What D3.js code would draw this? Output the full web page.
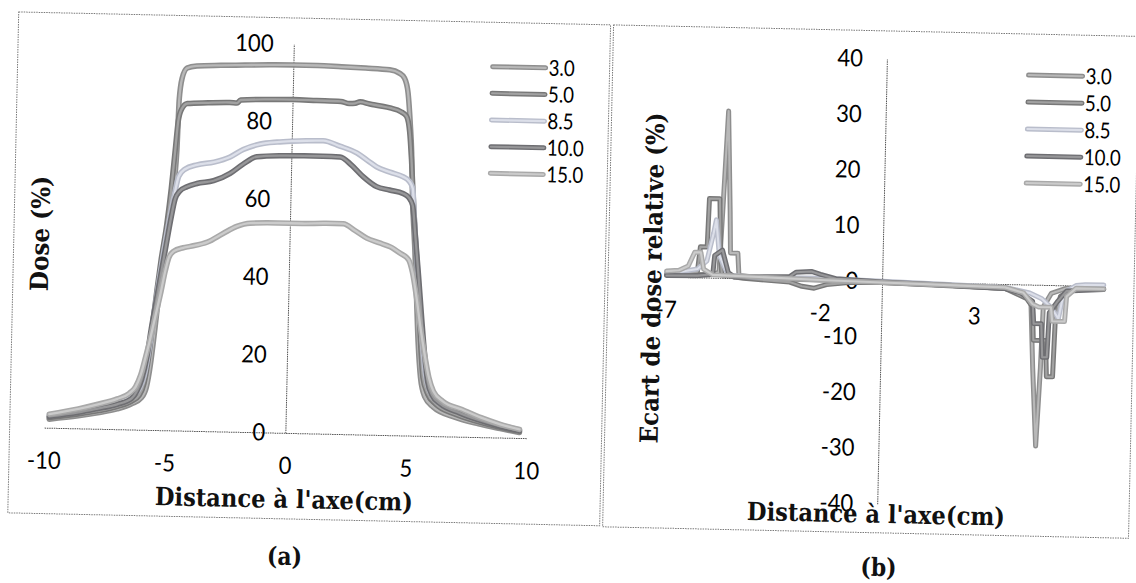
<!DOCTYPE html>
<html>
<head>
<meta charset="utf-8">
<script src="https://cdn.jsdelivr.net/npm/d3@7/dist/d3.min.js"></script>
<style>
  html, body { margin: 0; padding: 0; background: #fff; }
  svg { display: block; }
</style>
</head>
<body>
<svg id="fig" width="1136" height="583"></svg>
<script>
// ---- Data -------------------------------------------------------------
// Depths (cm) of the measured profiles
const depths = ["3.0", "5.0", "8.5", "10.0", "15.0"];

// (a) Dose profiles: [distance to axis (cm), dose (%)]
const prof3_0 = [[-9.8,2.2],[-8.6,3.2],[-7.8,4.1],[-7.0,5.2],[-6.4,6.6],[-6.0,8.2],[-5.8,11],[-5.65,17],[-5.5,26],[-5.35,36],[-5.2,44.6],[-4.91,59],[-4.75,72],[-4.7,85],[-4.6,90.5],[-4.4,93.2],[-4.0,93.8],[-3,94.1],[-2,94.3],[-1,94.5],[0,94.6],[1,94.6],[2,94.4],[3,94.2],[4.0,93.9],[4.4,93.1],[4.62,91.8],[4.78,88],[4.9,80],[4.98,73],[5.05,62],[5.2,47.8],[5.3,37],[5.42,24],[5.55,15],[5.75,10],[6.1,7.5],[7.0,5.0],[8.0,3.4],[8.9,2.3],[9.7,1.4]];
const prof5_0 = [[-9.8,2.6],[-8.6,3.7],[-7.8,4.6],[-7.0,5.8],[-6.4,7.3],[-6.1,8.8],[-5.9,12],[-5.75,18],[-5.6,27],[-5.45,36],[-5.3,44],[-5.1,53],[-4.95,62],[-4.82,72],[-4.72,79.5],[-4.6,82.5],[-4.36,84.1],[-3.5,84.4],[-2.6,84.6],[-2.3,84.5],[-2.15,85.3],[-1,85.6],[0,85.7],[1,85.6],[2,85.5],[2.35,85.0],[2.6,85.1],[2.8,85.5],[3.2,85.0],[3.6,84.6],[4.05,84.1],[4.5,83.2],[4.74,82],[4.88,78],[4.98,71],[5.08,62],[5.22,50],[5.38,38],[5.52,24],[5.65,15],[5.85,11],[6.2,8.3],[7.0,5.8],[8.0,3.9],[8.9,2.6],[9.7,1.7]];
const prof8_5 = [[-9.8,3.2],[-8.6,4.6],[-7.8,5.7],[-7.0,7.0],[-6.4,8.6],[-6.1,10.5],[-5.9,14],[-5.7,22],[-5.55,30],[-5.4,37],[-5.2,46],[-5.0,54],[-4.8,61],[-4.65,65.3],[-4.4,67.2],[-3.9,68.4],[-3.2,69.2],[-2.54,70.6],[-2.0,72.6],[-1.3,74.1],[-0.6,74.7],[0,75.0],[0.6,75.2],[1.3,75.3],[2.0,74.0],[2.72,72.3],[3.2,70.3],[3.54,68.9],[4.1,67.6],[4.64,66.5],[4.9,65.4],[5.06,63.5],[5.15,56],[5.3,45],[5.45,34],[5.6,24],[5.75,16],[5.95,11.5],[6.3,8.8],[7.2,6.3],[8.0,4.8],[8.9,3.2],[9.7,2.1]];
const prof10_0 = [[-9.8,2.9],[-8.6,4.1],[-7.8,5.2],[-7.0,6.4],[-6.4,8.0],[-6.2,9.8],[-6.0,13],[-5.8,19],[-5.65,26],[-5.45,34],[-5.25,42],[-5.1,48],[-4.92,55],[-4.78,59.5],[-4.6,61.5],[-4.3,62.7],[-3.89,63.6],[-3.2,64.4],[-2.52,66.4],[-2.0,68.8],[-1.43,70.8],[-0.5,71.2],[0.5,71.3],[1.3,71.3],[2.02,71.2],[2.5,69.2],[2.99,66.3],[3.56,63.8],[4.1,63.0],[4.66,62.2],[4.9,61.2],[5.07,59.2],[5.2,52],[5.38,41],[5.55,30],[5.7,21],[5.85,14],[6.05,10.5],[6.4,8.3],[7.2,6.1],[8.0,4.4],[8.9,2.9],[9.7,1.9]];
const prof15_0 = [[-9.8,3.5],[-8.6,5.0],[-7.8,6.3],[-7.0,7.8],[-6.5,9.3],[-6.25,11],[-6.05,14],[-5.85,19],[-5.7,23],[-5.5,29],[-5.3,35],[-5.12,41],[-4.98,44.5],[-4.8,46],[-4.4,47],[-4.11,47.4],[-3.4,48.6],[-2.76,50.9],[-2.2,52.8],[-1.65,53.7],[-0.5,53.9],[0.5,53.9],[1.5,54.1],[2.21,54.1],[2.7,52.4],[3.2,50.5],[3.7,49.4],[4.18,48.4],[4.6,46.8],[4.95,45.2],[5.12,42],[5.3,36],[5.5,28],[5.7,21],[5.9,15],[6.1,11.5],[6.5,9.0],[7.3,7.0],[8.1,5.0],[8.9,3.4],[9.7,2.2]];

// (b) Relative dose deviation: [distance to axis (cm), deviation (%)]
const dev3_0 = [[-7,0.3],[-6.5,0.4],[-6.0,0.5],[-5.5,0.6],[-5.3,1],[-5.22,12],[-5.1,30],[-4.98,12],[-4.94,4.5],[-4.7,4.5],[-4.65,0.5],[-4,0.2],[-3,0],[-2,0],[-1,0],[0,-0.2],[1,-0.3],[2,-0.4],[3,-0.6],[4,-0.8],[4.6,-1.5],[4.85,-3.5],[4.95,-15],[5.1,-29],[5.2,-15],[5.25,-4],[5.5,-1.5],[6.0,-0.5],[7,-0.5],[7.2,-0.5]];
const dev5_0 = [[-7,0.5],[-6.2,0.8],[-6.0,1],[-5.92,5.5],[-5.7,5.5],[-5.66,14.2],[-5.32,14.2],[-5.25,3],[-5.2,0.5],[-4.5,0],[-3,-0.5],[-2.6,-1.2],[-2.2,-1.5],[-1.8,-0.8],[-1,-0.3],[0,-0.2],[2,-0.5],[4,-0.8],[4.7,-2.5],[4.9,-4],[4.95,-10],[5.35,-10],[5.4,-16.5],[5.6,-16.5],[5.65,-6],[5.8,-2],[6.2,-0.5],[7.2,-0.5]];
const dev8_5 = [[-7,0.8],[-6.5,1],[-6.0,1.5],[-5.7,3],[-5.5,8],[-5.42,10.4],[-5.3,4],[-5.0,0.5],[-4,0.2],[-2,0.3],[0,0],[2,-0.3],[4,-0.6],[4.8,-1.5],[5.2,-2.5],[5.5,-4],[5.75,-6],[5.85,-3],[6.0,-1],[6.3,0],[6.6,0.2],[7.2,0.2]];
const dev10_0 = [[-7,0.2],[-6,0.3],[-5.5,0.6],[-5.45,4],[-5.2,5],[-5.0,1],[-4.8,0.2],[-3,0.5],[-2.8,1.3],[-2.3,1.5],[-2.0,1.0],[-1.5,0.3],[0,-0.1],[2,-0.4],[4,-0.8],[4.5,-1.5],[4.9,-3],[4.95,-7],[5.2,-7],[5.25,-13],[5.4,-13],[5.45,-5],[5.7,-3],[6.0,-1],[7.2,-0.6]];
const dev15_0 = [[-7,1],[-6.6,1.2],[-6.3,2],[-6.1,4.5],[-5.9,4.5],[-5.8,1.5],[-5.5,0.5],[-4,0.3],[-2,0],[0,-0.2],[2,-0.4],[4,-0.6],[4.6,-1.5],[4.9,-3.5],[5.1,-4],[5.5,-4],[5.55,-6.5],[5.95,-6.5],[6.0,-2],[6.3,-0.5],[7.2,-0.5]];

// Tick values
const xTicksA = [-10, -5, 0, 5, 10];
const yTicksA = [0, 20, 40, 60, 80, 100];
const xTicksB = [-7, -2, 3];
const yTicksB = [-40, -30, -20, -10, 0, 10, 20, 30, 40];

const profiles = [prof3_0, prof5_0, prof8_5, prof10_0, prof15_0];
const deviations = [dev3_0, dev5_0, dev8_5, dev10_0, dev15_0];

// ---- Styles -----------------------------------------------------------
const strokeOuter = ["#8e8e8e", "#787878", "#b9bdcb", "#6e6e72", "#a9a9a9"];
const strokeInner = ["#b8b8b8", "#a2a2a2", "#dcdfe9", "#979799", "#cbcbcb"];
const tickFont = "Lato, 'Open Sans', sans-serif";
const titleFont = "'DejaVu Serif', 'Liberation Serif', serif";
const lineGrey = "#555";
const plainNumber = d => String(d);   // hyphen-minus, as typed in the sheet

const svg = d3.select("#fig");
// the whole sheet sits slightly tilted
const root = svg.append("g").attr("transform", "rotate(1.25,568,280)");

function tube(g, d, i, width) {
  g.append("path").attr("d", d).attr("fill", "none")
    .attr("stroke", strokeOuter[i]).attr("stroke-width", width)
    .attr("stroke-linejoin", "round").attr("stroke-linecap", "round");
  g.append("path").attr("d", d).attr("fill", "none")
    .attr("stroke", strokeInner[i]).attr("stroke-width", width * 0.42)
    .attr("stroke-linejoin", "round").attr("stroke-linecap", "round");
}

function title(g, x, y, s, len, rot) {
  g.append("text")
    .attr("transform", `translate(${x},${y}) rotate(${rot || 0})`)
    .attr("text-anchor", "middle")
    .attr("font-family", titleFont).attr("font-weight", "bold")
    .attr("font-size", 25).attr("fill", "#111")
    .attr("textLength", len).attr("lengthAdjust", "spacingAndGlyphs")
    .text(s);
}

function frame(g, x0, y0, x1, y1) {
  g.append("rect").attr("x", x0).attr("y", y0)
    .attr("width", x1 - x0).attr("height", y1 - y0)
    .attr("fill", "none").attr("stroke", "#7a7a7a").attr("stroke-width", 1)
    .attr("stroke-dasharray", "1.5,1");
}

function styleAxis(ax, side, off) {
  ax.select(".domain").attr("stroke", lineGrey).attr("stroke-width", 1)
    .attr("stroke-dasharray", "1.5,0.8");
  ax.selectAll(".tick line").remove();
  const t = ax.selectAll(".tick text")
    .attr("font-family", tickFont).attr("font-size", 24).attr("fill", "#000");
  if (side === "bottom") {
    t.attr("y", off).attr("dy", "0.71em").attr("transform", "scale(0.92,1)");
  } else {
    t.attr("x", off).attr("dy", "0.32em").attr("transform", "scale(0.92,1)");
  }
  ax.attr("font-family", null).attr("font-size", null);
}

function legend(g, x0, x1, ys) {
  depths.forEach((lab, i) => {
    const y = ys[i];
    tube(g, `M${x0},${y}L${x1},${y}`, i, 5);
    g.append("text").attr("transform", `translate(${x1 + 3},${y}) scale(0.85,1)`)
      .attr("dy", "0.35em").attr("font-family", tickFont).attr("font-size", 22)
      .attr("fill", "#000").text(lab);
  });
}

// ---- Panel (a): dose profiles ----------------------------------------
const gA = root.append("g");
frame(gA, 13, 24, 605, 525);
const xA = d3.scaleLinear().domain([-10, 10]).range([47.5, 530]);
const yA = d3.scaleLinear().domain([0, 100]).range([439, 50]);

const axAx = gA.append("g").attr("transform", `translate(0,${yA(0)})`)
  .call(d3.axisBottom(xA).tickValues(xTicksA).tickFormat(plainNumber).tickSize(0).tickSizeOuter(0));
styleAxis(axAx, "bottom", 24);
const axAy = gA.append("g").attr("transform", `translate(${xA(0)},0)`)
  .call(d3.axisLeft(yA).tickValues(yTicksA).tickFormat(plainNumber).tickSize(0).tickSizeOuter(0));
styleAxis(axAy, "left", -22);

const lineA = d3.line().x(d => xA(d[0])).y(d => yA(d[1])).curve(d3.curveMonotoneX);
profiles.forEach((p, i) => tube(gA, lineA(p), i, 5.5));

legend(gA, 488, 541, [68.4, 95, 121.7, 148.4, 175]);
title(gA, 288.75, 514, "Distance à l'axe(cm)", 258);
title(gA, 48, 245, "Dose (%)", 115, -90);
title(gA, 290.6, 571, "(a)", 35);

// ---- Panel (b): relative dose deviation -------------------------------
const gB = root.append("g");
frame(gB, 608, 24, 1134, 526);
const xB = d3.scaleLinear().domain([-7, 7.2]).range([666.4, 1103.8]);
const yB = d3.scaleLinear().domain([-40, 40]).range([497, 52]);

const axBx = gB.append("g").attr("transform", `translate(0,${yB(0)})`)
  .call(d3.axisBottom(xB).tickValues(xTicksB).tickFormat(plainNumber).tickSize(0).tickSizeOuter(0));
styleAxis(axBx, "bottom", 24);
const axBy = gB.append("g").attr("transform", `translate(${xB(0)},0)`)
  .call(d3.axisLeft(yB).tickValues(yTicksB).tickFormat(plainNumber).tickSize(0).tickSizeOuter(0));
styleAxis(axBy, "left", -26);

const lineB = d3.line().x(d => xB(d[0])).y(d => yB(d[1]));
deviations.forEach((p, i) => tube(gB, lineB(p), i, 5));

legend(gB, 1024, 1078, [65, 92, 119, 146, 173]);
title(gB, 881, 516, "Distance à l'axe(cm)", 258);
title(gB, 661, 276, "Ecart de dose relative (%)", 331, -90);
title(gB, 884.7, 569, "(b)", 36);
</script>
</body>
</html>
